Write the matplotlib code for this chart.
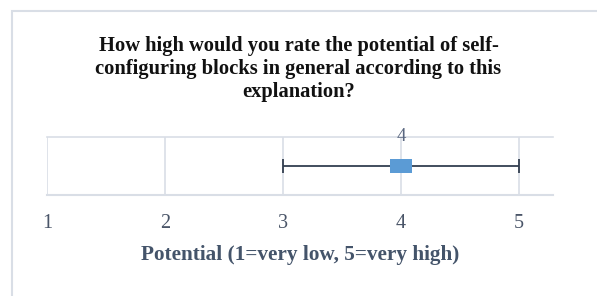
import matplotlib
matplotlib.use("Agg")
import matplotlib.pyplot as plt
from matplotlib.patches import Rectangle

# data
category = ["Potential"]
mean_value = [4]
err_low = [1]
err_high = [1]
x_ticks = [1, 2, 3, 4, 5]
title_lines = ["How high would you rate the potential of self-",
               "configuring blocks in general according to this",
               "explanation?"]
x_label = "Potential (1=very low, 5=very high)"

plt.rcParams['font.family'] = ['Liberation Serif', 'DejaVu Serif']

W, H = 597, 296
fig = plt.figure(figsize=(W / 100, H / 100), dpi=100)

# outer chart border
fig.patches.append(Rectangle((12 / W, -0.01), 1.0, 1 - 11 / H + 0.01,
                             transform=fig.transFigure, fill=False,
                             edgecolor="#D9DEE6", linewidth=1.5))

ax = fig.add_axes([47 / W, 1 - 195 / H, (553 - 47) / W, (195 - 137) / H])

y = [0.5]
ax.errorbar(mean_value, y, xerr=[err_low, err_high], fmt="none",
            ecolor="#333F50", elinewidth=1.3, capsize=5, capthick=1.3, zorder=3)
for xv, yv in zip(mean_value, y):
    # rectangular marker, wider than tall
    ax.add_patch(Rectangle((xv - 11 / 118, yv - 7 / 58), 22 / 118, 14 / 58,
                           facecolor="#5B9BD5", edgecolor="none", zorder=4))
    ax.annotate(str(xv), (xv, 1.0), xytext=(0, 0.5), textcoords="offset points",
                ha="center", va="center", fontsize=13.5, color="#5A6780")

ax.set_xlim(1, 5.29)
ax.set_ylim(0, 1)
ax.set_xticks(x_ticks)
ax.set_yticks([])
ax.grid(axis="x", color="#D9DEE6", linewidth=1.2)
ax.set_axisbelow(True)
for s in ["left", "right"]:
    ax.spines[s].set_visible(False)
ax.spines["top"].set_color("#D9DEE6")
ax.spines["bottom"].set_color("#D9DEE6")
ax.spines["top"].set_linewidth(1.2)
ax.spines["bottom"].set_linewidth(1.5)
ax.tick_params(axis="x", length=0, pad=14, labelsize=14.5, labelcolor="#4A5568")

ax.set_xlabel(x_label, fontsize=15.3, fontweight="bold", color="#44546A")
ax.xaxis.label.set_va("baseline")
ax.xaxis.set_label_coords(0.5, (195 - 260) / 58)

for i, line in enumerate(title_lines):
    fig.text(0.5, 1 - (51 + 23 * i) / H, line, ha="center", va="baseline",
             fontsize=14.8, fontweight="bold", color="#111111")

fig.savefig("out.png", dpi=100, facecolor="white")
